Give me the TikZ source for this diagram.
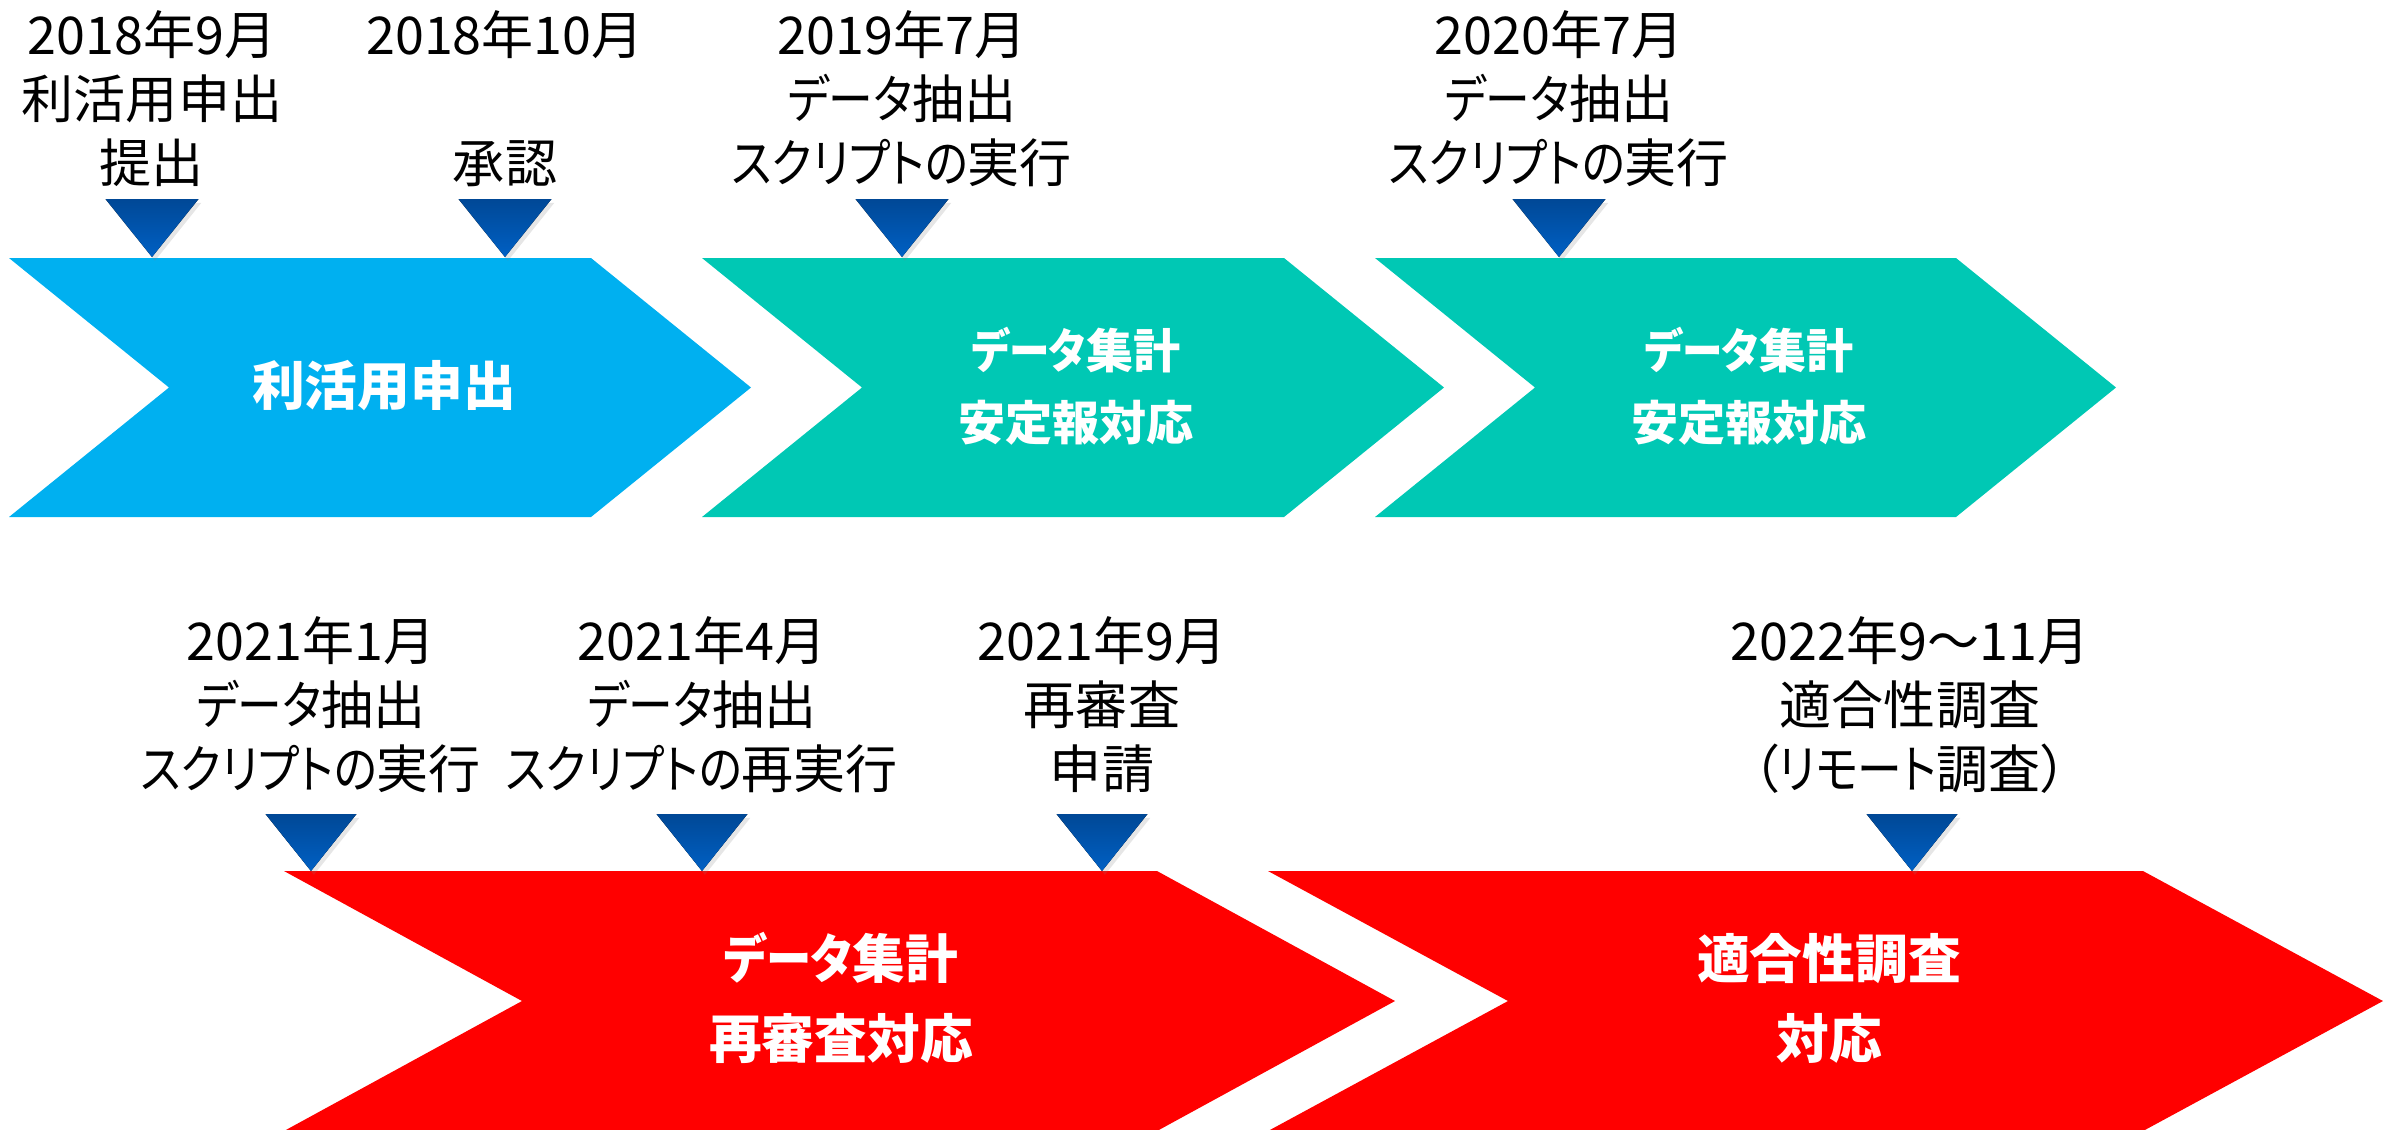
\documentclass[tikz,border=0pt]{standalone}
\usepackage{fontspec}
\setmainfont{Noto Sans CJK JP}[RawFeature=+palt]
\newfontfamily\kanafont{Noto Sans CJK JP}[RawFeature=+palt, FakeStretch=0.86]
\newcommand{\kn}[1]{{\kanafont #1}}
\usetikzlibrary{positioning,shadows}

\definecolor{phaseblue}{HTML}{00B0F0}
\definecolor{phaseteal}{HTML}{00C8B4}
\definecolor{phasered}{HTML}{FF0000}
\definecolor{markdark}{HTML}{004896}
\definecolor{marklight}{HTML}{0060C4}

\begin{document}
\begin{tikzpicture}[x = 0.01cm, y = -0.01cm,
                    when/.style = {align = center,
                                   anchor = north,
                                   inner sep = 0pt,
                                   font = \fontsize{14.8}{18.2}\selectfont},
                    phase/.style = {align = center,
                                    inner sep = 0pt,
                                    text = white,
                                    font = \bfseries\fontsize{15}{22.8}\selectfont},
                    marker/.style = {top color = markdark,
                                     bottom color = marklight,
                                     drop shadow = {shadow xshift = 0.15ex,
                                                    shadow yshift = -0.2ex,
                                                    opacity = 0.2}}]

\useasboundingbox (0,0) rectangle (2399,1129);

% chevrons: left, right top corner, top, bottom, depth
\foreach \l/\r/\t/\b/\d/\c in {9/591/258/517/160/phaseblue,
                                702/1284/258/517/160/phaseteal,
                                1375/1956/258/517/160/phaseteal,
                                284/1157/871/1131/238/phasered,
                                1268/2143/871/1131/240/phasered}
  \fill[\c] (\l,\t) -- (\r,\t) -- ({\r+\d},{(\t+\b)/2}) -- (\r,\b)
            -- (\l,\b) -- ({\l+\d},{(\t+\b)/2}) -- cycle;

% phase texts
\node[phase] (apply) at (384,386) {利活用申出};
\node[phase, font = \bfseries\fontsize{13.4}{20.5}\selectfont] (agg19) at (1076,386) {\kn{データ}集計\\安定報対応};
\node[phase, font = \bfseries\fontsize{13.4}{20.5}\selectfont] (agg20) at (1749,386) {\kn{データ}集計\\安定報対応};
\node[phase] (agg21) at (841,998) {\kn{データ}集計\\再審査対応};
\node[phase] (audit) at (1829,998) {適合性調査\\対応};

% markers: centre, top, width, height
\foreach \x/\y/\w/\h in {152/199/93/58, 505/199/93/58, 902/199/93/58, 1559/199/93/58,
                         311/814/91/57, 702/814/91/57, 1102/814/91/57, 1912/814/91/57}
  \fill[marker] ({\x-\w/2},\y) -- ({\x+\w/2},\y) -- (\x,{\y+\h}) -- cycle;

% dates
\node[when] (d1809) at (152,10) {2018年9月\\利活用申出\\提出};
\node[when] (d1810) at (505,10) {2018年10月\\\strut\\承認};
\node[when] (d1907) at (902,10) {2019年7月\\\kn{データ}抽出\\\kn{スクリプトの}実行};
\node[when] (d2007) at (1559,10) {2020年7月\\\kn{データ}抽出\\\kn{スクリプトの}実行};
\node[when] (d2101) at (311,616) {2021年1月\\\kn{データ}抽出\\\kn{スクリプトの}実行};
\node[when] (d2104) at (702,616) {2021年4月\\\kn{データ}抽出\\\kn{スクリプトの}再実行};
\node[when] (d2109) at (1102,616) {2021年9月\\再審査\\申請};
\node[when] (d2209) at (1910,616) {2022年9～11月\\適合性調査\\（\kn{リモート}調査）};

\end{tikzpicture}
\end{document}
